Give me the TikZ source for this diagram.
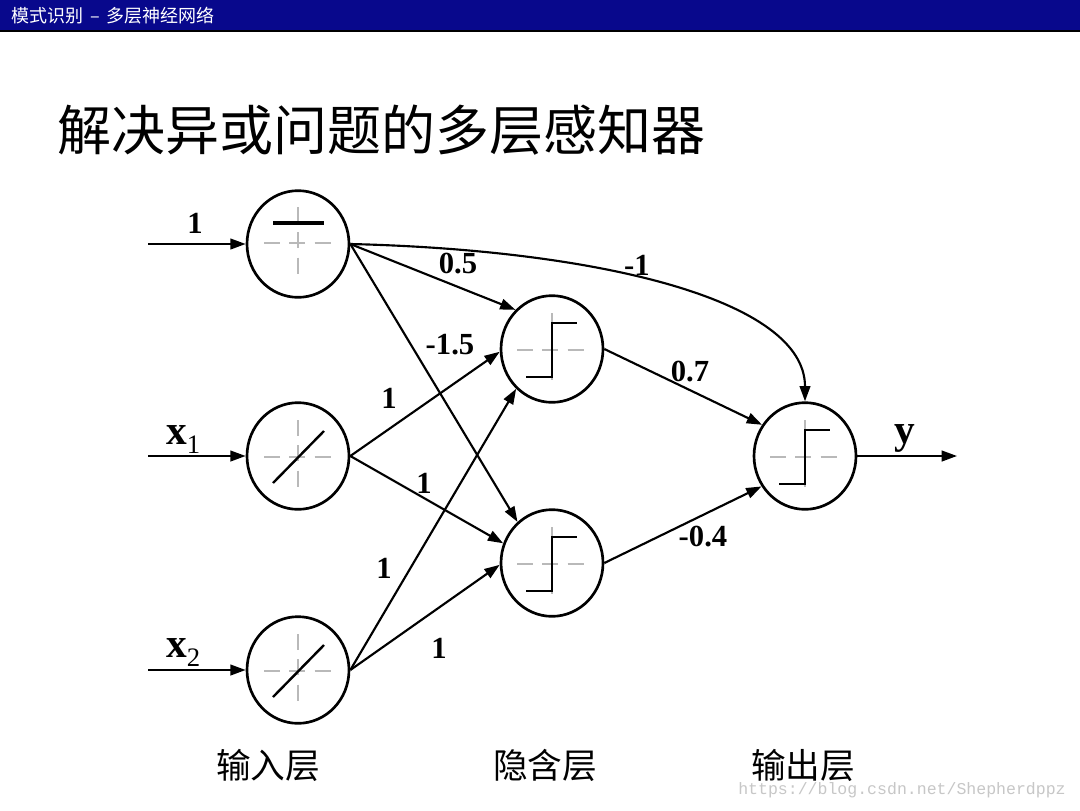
\documentclass[tikz,border=0pt]{standalone}
\usepackage{fontspec}
\setmainfont{Liberation Serif}
\newfontfamily\cjk{Noto Sans CJK SC}
\newfontfamily\wmfont{Liberation Mono}
\usetikzlibrary{arrows.meta,shapes.geometric}
\definecolor{hdrblue}{RGB}{8,8,140}
\definecolor{axgray}{RGB}{185,185,185}
\tikzset{
  neuron/.style={draw, ellipse, line width=2pt, minimum width=76.5pt, minimum height=80pt, inner sep=0pt},
  arr/.style={-{Triangle[length=11.5pt,width=8pt]}, line width=1.6pt},
  wlab/.style={font=\fontsize{23pt}{23pt}\selectfont\bfseries, inner sep=0pt},
  layerlab/.style={font=\cjk\fontsize{26pt}{26pt}\selectfont, inner sep=0pt},
  axis/.style={draw=axgray, line width=1.1pt, dash pattern=on 12pt off 7pt},
  glyph/.style={line width=1.8pt},
  iolab/.style={font=\fontsize{31pt}{31pt}\selectfont, inner sep=0pt}
}
\newcommand{\xsub}[1]{\textbf{x}\raisebox{-0.22em}{\fontsize{20pt}{20pt}\selectfont #1}}
\begin{document}
\begin{tikzpicture}[x=0.75pt,y=-0.75pt]
\useasboundingbox (0,0) rectangle (1080,810);
\fill[white] (0,0) rectangle (1080,810);
% header
\fill[hdrblue] (0,0) rectangle (1080,31);
\draw[black, line width=1pt] (0,31) -- (1080,31);
\node[anchor=west, text=white, font=\cjk\fontsize{13.5pt}{13.5pt}\selectfont, inner sep=0pt] (hdr) at (11,16) {模式识别 \,–\, 多层神经网络};
% title
\node[anchor=west, font=\cjk\fontsize{40.5pt}{40.5pt}\selectfont, inner sep=0pt] (title) at (57,130) {解决异或问题的多层感知器};
% neurons
\node[neuron] (B) at (298,244) {};
\node[neuron] (X1) at (298,456) {};
\node[neuron] (X2) at (298,670) {};
\node[neuron] (H1) at (552,349) {};
\node[neuron] (H2) at (552,563) {};
\node[neuron] (O) at (805,456) {};
% glyphs: bias
\begin{scope}[shift={(B.center)}]
  \draw[axis] (-34,-1) -- (34,-1);
  \draw[axis] (0,-37) -- (0,34);
  \draw[line width=2.4pt] (-25,-21) -- (26,-21);
\end{scope}
% glyphs: linear
\foreach \n in {X1,X2}{
\begin{scope}[shift={(\n.center)}]
  \draw[axis] (-34,1) -- (34,1);
  \draw[axis] (0,-36) -- (0,36);
  \draw[glyph] (-25,27) -- (26,-25);
\end{scope}
}
% glyphs: step
\foreach \n in {H1,H2,O}{
\begin{scope}[shift={(\n.center)}]
  \draw[axis] (-35,1) -- (35,1);
  \draw[axis] (0,-36) -- (0,36);
  \draw[glyph] (-26,28) -- (0,28) -- (0,-26) -- (25,-26);
\end{scope}
}
% inputs
\coordinate (inB) at (148,244);
\coordinate (inX1) at (148,456);
\coordinate (inX2) at (148,670);
\coordinate (outY) at (957,456);
\draw[arr] (inB) -- (B.west);
\draw[arr] (inX1) -- (X1.west);
\draw[arr] (inX2) -- (X2.west);
\draw[arr] (O.east) -- (outY);
% connections
\draw[arr] (B.east) -- (H1.133);
\draw[arr] (B.east) -- (H2.130);
\draw[arr] (B.east) .. controls (600,250) and (805,300) .. (O.north);
\draw[arr] (X1.east) -- (H1.183);
\draw[arr] (X1.east) -- (H2.158);
\draw[arr] (X2.east) -- (H1.228);
\draw[arr] (X2.east) -- (H2.182);
\draw[arr] (H1.east) -- (O.144);
\draw[arr] (H2.east) -- (O.215);
% labels
\node[wlab] (l1) at (195,223) {1};
\node[wlab] (l05) at (458,264) {0.5};
\node[wlab] (lm1) at (637,265) {-1};
\node[wlab] (lm15) at (450,345) {-1.5};
\node[wlab] (l07) at (690,372) {0.7};
\node[wlab] (la) at (389,398) {1};
\node[wlab] (lb) at (424,483) {1};
\node[wlab] (lc) at (384,568) {1};
\node[wlab] (ld) at (439,648) {1};
\node[wlab] (lm04) at (703,537) {-0.4};
\node[iolab, anchor=base west] (x1lab) at (166,444) {\xsub{1}};
\node[iolab, anchor=base west] (x2lab) at (166,657) {\xsub{2}};
\node[iolab, anchor=base] (ylab) at (905,443) {\textbf{y}};
% layer labels
\node[layerlab] (L1) at (268,765) {输入层};
\node[layerlab] (L2) at (545,765) {隐含层};
\node[layerlab] (L3) at (803,765) {输出层};
% watermark
\node[anchor=west, text=black!22, font=\wmfont\fontsize{12.4pt}{12.4pt}\selectfont, inner sep=0pt] (wm) at (738,790) {https://blog.csdn.net/Shepherdppz};
\end{tikzpicture}
\end{document}
